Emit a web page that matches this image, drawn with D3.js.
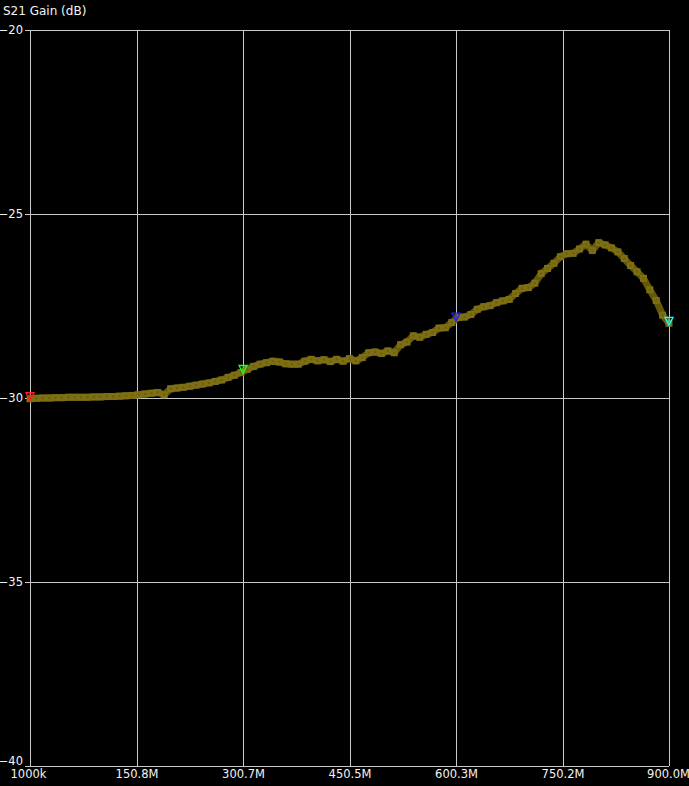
<!DOCTYPE html>
<html>
<head>
<meta charset="utf-8">
<script src="https://cdn.jsdelivr.net/npm/d3@7"></script>
<style>
  html, body { margin: 0; padding: 0; background: #000; }
  svg { display: block; }
  text { font-family: "DejaVu Sans", sans-serif; fill: #f4f4f4; }
</style>
</head>
<body>
<svg id="chart" width="689" height="786"></svg>
<script>
// sweep: 101 points, 1 MHz .. 900 MHz
var startFreq = 1e6;
var stopFreq = 900e6;
var gainDb = [
  -30.02, -30.01, -30.00, -30.00, -29.99, -29.99, -29.98, -29.98, -29.98, -29.98,
  -29.97, -29.97, -29.96, -29.96, -29.95, -29.94, -29.93, -29.91, -29.89, -29.87,
  -29.85, -29.91, -29.75, -29.73, -29.71, -29.68, -29.65, -29.62, -29.59, -29.55,
  -29.51, -29.44, -29.38, -29.31, -29.22, -29.14, -29.08, -29.04, -29.00, -29.02,
  -29.07, -29.08, -29.08, -29.00, -28.95, -28.99, -28.96, -29.01, -28.95, -29.00,
  -28.93, -28.99, -28.90, -28.77, -28.75, -28.79, -28.72, -28.77, -28.55, -28.48,
  -28.31, -28.35, -28.27, -28.22, -28.10, -28.09, -27.95, -27.81, -27.80, -27.73,
  -27.59, -27.52, -27.49, -27.41, -27.36, -27.32, -27.16, -27.02, -27.00, -26.88,
  -26.62, -26.48, -26.34, -26.16, -26.08, -26.07, -25.95, -25.82, -25.99, -25.78,
  -25.84, -25.92, -26.03, -26.21, -26.40, -26.57, -26.75, -27.06, -27.35, -27.75,
  -27.97
];
var xTickLabels = ["1000k", "150.8M", "300.7M", "450.5M", "600.3M", "750.2M", "900.0M"];
var yTicks = [-40, -35, -30, -25, -20];
var markerFreqs = [1e6, 300.7e6, 600.3e6, 900e6];
var markerColors = ["#ff2020", "#20ff20", "#2020ff", "#20ffff"];

var freqs = gainDb.map(function(d, i) {
  return startFreq + i * (stopFreq - startFreq) / (gainDb.length - 1);
});
var points = gainDb.map(function(d, i) { return { f: freqs[i], v: d }; });

var margin = {top: 30, right: 20, bottom: 20, left: 30};
var width = 669 - margin.left;
var height = 766 - margin.top;

var svg = d3.select("#chart");
var g = svg.append("g").attr("transform", "translate(" + margin.left + "," + margin.top + ")");

var x = d3.scaleLinear().domain([startFreq, stopFreq]).range([0, width]);
var y = d3.scaleLinear().domain([-40, -20]).range([height, 0]);

var xTickVals = xTickLabels.map(function(d, i) {
  return startFreq + i * (stopFreq - startFreq) / (xTickLabels.length - 1);
});

// vertical grid + labels
g.append("g")
  .attr("transform", "translate(0," + height + ")")
  .call(d3.axisBottom(x).tickValues(xTickVals)
    .tickSize(-height).tickPadding(4)
    .tickFormat(function(d, i) { return xTickLabels[i]; }))
  .call(function(a) {
    a.select(".domain").remove();
    a.selectAll("line").attr("stroke", "#c8c8c8").attr("shape-rendering", "crispEdges");
    a.selectAll("text").style("fill", "#f4f4f4").style("font-size", "11.5px")
      .style("font-family", "DejaVu Sans, sans-serif")
      .attr("x", function(d, i) { return i === 0 ? -2 : (i === 6 ? -1 : 0); });
  });

// horizontal grid + labels (ticks stick out 5px to the left)
g.append("g")
  .call(d3.axisLeft(y).tickValues(yTicks)
    .tickSizeInner(-width).tickSizeOuter(0).tickPadding(3)
    .tickFormat(d3.format("d")))
  .call(function(a) {
    a.select(".domain").remove();
    a.selectAll("line").attr("stroke", "#c8c8c8").attr("x1", -5)
      .attr("shape-rendering", "crispEdges");
    a.selectAll("text").style("fill", "#f4f4f4").style("font-size", "11.5px")
      .attr("x", -7)
      .attr("y", function(d) { return d === -40 ? -5 : 0; })
      .style("font-family", "DejaVu Sans, sans-serif");
  });

svg.append("text").attr("x", 3).attr("y", 15).style("font-size", "12px").text("S21 Gain (dB)");

// trace
var line = d3.line().x(function(d) { return x(d.f); }).y(function(d) { return y(d.v); });
g.append("path").datum(points)
  .attr("fill", "none")
  .attr("stroke", "#63580a")
  .attr("stroke-width", 7)
  .attr("stroke-linejoin", "round")
  .attr("d", line);

g.selectAll("rect.pt").data(points).enter().append("rect")
  .attr("class", "pt")
  .attr("x", function(d) { return x(d.f) - 3.5; })
  .attr("y", function(d) { return y(d.v) - 3.5; })
  .attr("width", 7).attr("height", 7)
  .attr("fill", "#7e6f14");

g.selectAll("rect.dot").data(points).enter().append("rect")
  .attr("class", "dot")
  .attr("x", function(d) { return x(d.f) - 1; })
  .attr("y", function(d) { return y(d.v) - 1; })
  .attr("width", 2).attr("height", 2)
  .attr("fill", "#6a5d0c");

// markers: down-pointing triangles with tip on the trace
var interp = d3.scaleLinear().domain(freqs).range(gainDb);
g.selectAll("g.mk").data(markerFreqs).enter().append("g")
  .attr("class", "mk")
  .attr("transform", function(d) { return "translate(" + x(d) + "," + (y(interp(d)) + 2) + ")"; })
  .each(function(d, i) {
    var m = d3.select(this);
    m.append("path").attr("d", "M-4,-8L4,-8L0,0Z")
      .attr("fill", "none").attr("stroke", markerColors[i]).attr("stroke-width", 1.3);
    m.append("line").attr("x1", 0).attr("x2", 0).attr("y1", -7).attr("y2", -2)
      .attr("stroke", markerColors[i]).attr("stroke-width", 1);
  });
</script>
</body>
</html>
